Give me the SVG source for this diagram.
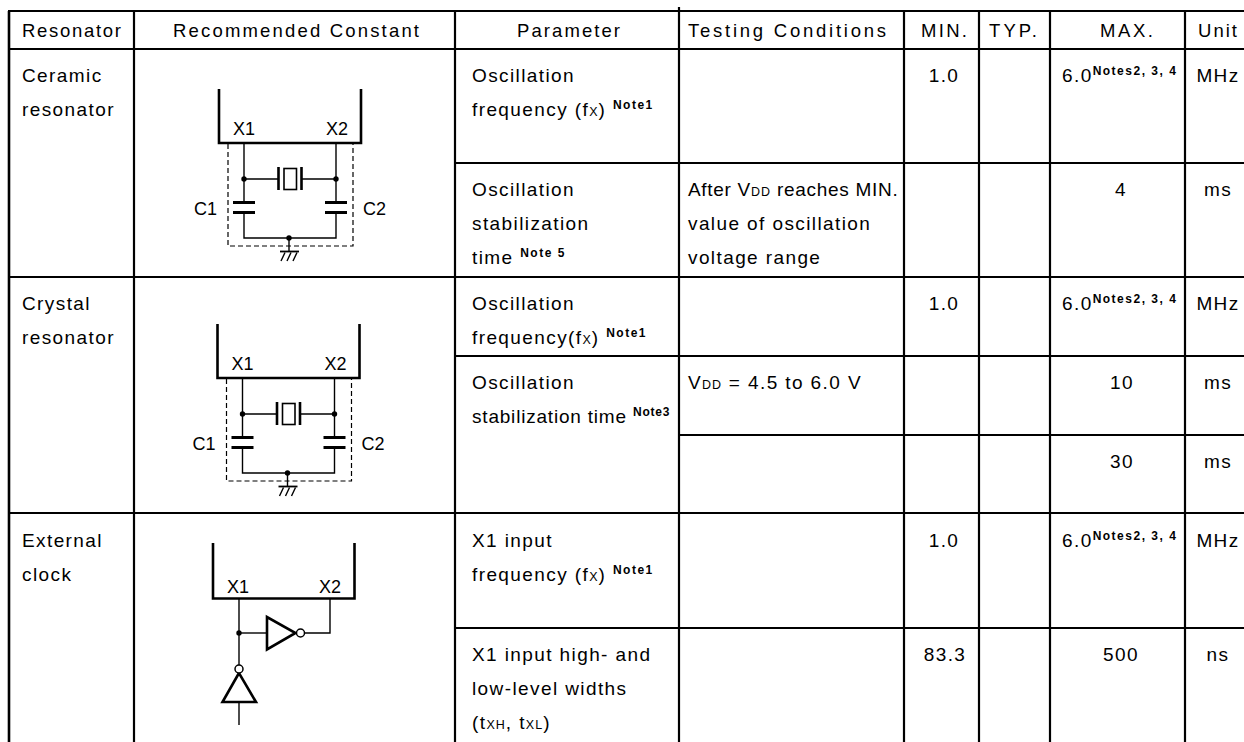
<svg xmlns="http://www.w3.org/2000/svg" width="1244" height="742" viewBox="0 0 1244 742">
<style>
text{font-family:"Liberation Sans",Arial,Helvetica,sans-serif;font-size:19px;fill:#000}
.t{letter-spacing:1.4px}
.h{letter-spacing:0;font-size:18.5px}
.c{text-anchor:middle;letter-spacing:1.4px}
.sup{font-weight:bold;font-size:12px;letter-spacing:1.5px}
.sub{font-size:12.5px;letter-spacing:1px}
.lbl{letter-spacing:0;font-size:18px}
.grid line{stroke:#000;stroke-width:2.2}
.w{stroke:#000;stroke-width:1.4;fill:none}
.bold{stroke:#000;stroke-width:2.6;fill:none}
.plate{stroke:#000;stroke-width:3;fill:none}
.dash{stroke:#000;stroke-width:1.2;fill:none;stroke-dasharray:5 3}
.dot{fill:#000}
.bub{fill:#fff;stroke:#000;stroke-width:1.5}
</style>
<rect width="1244" height="742" fill="#fff"/>

<g id="table-grid" class="grid">
  <line x1="9" y1="11" x2="9" y2="742" style="stroke-width:2.6"/>
  <line x1="134" y1="11" x2="134" y2="742"/>
  <line x1="455" y1="11" x2="455" y2="742"/>
  <line x1="679" y1="7" x2="679" y2="742"/>
  <line x1="904" y1="11" x2="904" y2="742"/>
  <line x1="979" y1="11" x2="979" y2="742"/>
  <line x1="1050" y1="11" x2="1050" y2="742"/>
  <line x1="1185" y1="11" x2="1185" y2="742"/>
  <line x1="8" y1="11" x2="1244" y2="11"/>
  <line x1="8" y1="49" x2="1244" y2="49"/>
  <line x1="455" y1="163" x2="1244" y2="163"/>
  <line x1="8" y1="277" x2="1244" y2="277"/>
  <line x1="455" y1="356" x2="1244" y2="356"/>
  <line x1="679" y1="435" x2="1244" y2="435"/>
  <line x1="8" y1="513" x2="1244" y2="513"/>
  <line x1="455" y1="628" x2="1244" y2="628"/>
</g>

<g id="header">
  <text class="h" x="22" y="37" textLength="99" lengthAdjust="spacing">Resonator</text>
  <text class="h" x="173" y="37" textLength="246" lengthAdjust="spacing">Recommended Constant</text>
  <text class="h" x="517" y="37" textLength="103" lengthAdjust="spacing">Parameter</text>
  <text class="h" x="688" y="37" textLength="198" lengthAdjust="spacing">Testing Conditions</text>
  <text class="h" x="921" y="37" textLength="46" lengthAdjust="spacing">MIN.</text>
  <text class="h" x="989" y="37" textLength="48" lengthAdjust="spacing">TYP.</text>
  <text class="h" x="1100" y="37" textLength="53" lengthAdjust="spacing">MAX.</text>
  <text class="h" x="1198" y="37" textLength="39" lengthAdjust="spacing">Unit</text>
</g>

<g id="row-ceramic">
  <text class="t" x="22" y="82">Ceramic</text>
  <text class="t" x="22" y="116">resonator</text>
  <text class="t" x="472" y="82">Oscillation</text>
  <text class="t" x="472" y="116">frequency (f<tspan class="sub">X</tspan>) <tspan class="sup" dy="-7">Note1</tspan></text>
  <text class="c" x="944" y="82">1.0</text>
  <text class="t" x="1062" y="82">6.0<tspan class="sup" dy="-7">Notes2, 3, 4</tspan></text>
  <text class="c" x="1218" y="82">MHz</text>
  <text class="t" x="472" y="196">Oscillation</text>
  <text class="t" x="472" y="230">stabilization</text>
  <text class="t" x="472" y="264">time <tspan class="sup" dy="-7">Note 5</tspan></text>
  <text x="688" y="196" style="letter-spacing:0.7px">After V<tspan class="sub">DD</tspan> reaches MIN.</text>
  <text class="t" x="688" y="230">value of oscillation</text>
  <text class="t" x="688" y="264">voltage range</text>
  <text class="c" x="1121" y="196">4</text>
  <text class="c" x="1218" y="196">ms</text>
</g>

<g id="row-crystal">
  <text class="t" x="22" y="310">Crystal</text>
  <text class="t" x="22" y="344">resonator</text>
  <text class="t" x="472" y="310">Oscillation</text>
  <text class="t" x="472" y="344">frequency(f<tspan class="sub">X</tspan>) <tspan class="sup" dy="-7">Note1</tspan></text>
  <text class="c" x="944" y="310">1.0</text>
  <text class="t" x="1062" y="310">6.0<tspan class="sup" dy="-7">Notes2, 3, 4</tspan></text>
  <text class="c" x="1218" y="310">MHz</text>
  <text class="t" x="472" y="389">Oscillation</text>
  <text x="472" y="423" style="letter-spacing:0.8px">stabilization time <tspan class="sup" dy="-7" style="letter-spacing:0.8px">Note3</tspan></text>
  <text class="t" x="688" y="389">V<tspan class="sub">DD</tspan> = 4.5 to 6.0 V</text>
  <text class="c" x="1122" y="389">10</text>
  <text class="c" x="1218" y="389">ms</text>
  <text class="c" x="1122" y="468">30</text>
  <text class="c" x="1218" y="468">ms</text>
</g>

<g id="row-external">
  <text class="t" x="22" y="547">External</text>
  <text class="t" x="22" y="581">clock</text>
  <text class="t" x="472" y="547">X1 input</text>
  <text class="t" x="472" y="581">frequency (f<tspan class="sub">X</tspan>) <tspan class="sup" dy="-7">Note1</tspan></text>
  <text class="c" x="944" y="547">1.0</text>
  <text class="t" x="1062" y="547">6.0<tspan class="sup" dy="-7">Notes2, 3, 4</tspan></text>
  <text class="c" x="1218" y="547">MHz</text>
  <text class="t" x="472" y="661">X1 input high- and</text>
  <text class="t" x="472" y="695">low-level widths</text>
  <text class="t" x="472" y="729">(t<tspan class="sub">XH</tspan>, t<tspan class="sub">XL</tspan>)</text>
  <text class="c" x="945" y="661">83.3</text>
  <text class="c" x="1121" y="661">500</text>
  <text class="c" x="1218" y="661">ns</text>
</g>

<g id="circuit-ceramic">
  <path class="bold" d="M219,89 V143 H361 V89"/>
  <text class="lbl" x="233" y="135">X1</text>
  <text class="lbl" x="326" y="135">X2</text>
  <text class="lbl" x="194" y="215">C1</text>
  <text class="lbl" x="363" y="215">C2</text>
  <g id="conn-ceramic">
    <path class="w" d="M244,143 V202.5 M244,212.5 V238 H336 V212.5 M336,202.5 V143"/>
    <path class="w" d="M244,179 H278.5 M301.5,179 H336"/>
    <path class="w" d="M289,238 V251"/>
  </g>
  <path class="bold" d="M278.5,167 V190 M301.5,167 V190"/>
  <rect x="284" y="168.5" width="12.5" height="21" class="w" style="stroke-width:1.6"/>
  <path class="plate" d="M233,202.5 H255 M233,212.5 H255 M325,202.5 H347 M325,212.5 H347"/>
  <circle class="dot" cx="244" cy="179" r="2.7"/>
  <circle class="dot" cx="336" cy="179" r="2.7"/>
  <circle class="dot" cx="289" cy="238" r="2.7"/>
  <path class="w" d="M280,251.5 H299" style="stroke-width:1.8"/>
  <path class="w" d="M285,252.5 L281,261 M291,252.5 L287,261 M297,252.5 L293,261"/>
  <path class="dash" d="M228,144 V246 H353 V144"/>
</g>

<g id="circuit-crystal" transform="translate(-1.5,235)">
  <path class="bold" d="M219,89 V143 H361 V89"/>
  <text class="lbl" x="233" y="135">X1</text>
  <text class="lbl" x="326" y="135">X2</text>
  <text class="lbl" x="194" y="215">C1</text>
  <text class="lbl" x="363" y="215">C2</text>
  <g id="conn-crystal">
    <path class="w" d="M244,143 V202.5 M244,212.5 V238 H336 V212.5 M336,202.5 V143"/>
    <path class="w" d="M244,179 H278.5 M301.5,179 H336"/>
    <path class="w" d="M289,238 V251"/>
  </g>
  <path class="bold" d="M278.5,167 V190 M301.5,167 V190"/>
  <rect x="284" y="168.5" width="12.5" height="21" class="w" style="stroke-width:1.6"/>
  <path class="plate" d="M233,202.5 H255 M233,212.5 H255 M325,202.5 H347 M325,212.5 H347"/>
  <circle class="dot" cx="244" cy="179" r="2.7"/>
  <circle class="dot" cx="336" cy="179" r="2.7"/>
  <circle class="dot" cx="289" cy="238" r="2.7"/>
  <path class="w" d="M280,251.5 H299" style="stroke-width:1.8"/>
  <path class="w" d="M285,252.5 L281,261 M291,252.5 L287,261 M297,252.5 L293,261"/>
  <path class="dash" d="M228,144 V246 H353 V144"/>
</g>

<g id="circuit-external">
  <path class="bold" d="M213,543 V598.5 H354.5 V543"/>
  <text class="lbl" x="227" y="593">X1</text>
  <text class="lbl" x="319" y="593">X2</text>
  <g id="conn-external">
    <path class="w" d="M239,598 V665"/>
    <path class="w" d="M239,633 H267"/>
    <path class="w" d="M304.5,633 H330 V598"/>
    <path class="w" d="M239,702 V725"/>
  </g>
  <circle class="dot" cx="239" cy="633" r="2.7"/>
  <path class="bold" d="M267,617 L267,649.5 L295.5,633 Z" style="stroke-linejoin:miter"/>
  <circle class="bub" cx="300.5" cy="633" r="4"/>
  <path class="bold" d="M239,673 L222.5,702 L256,702 Z" style="stroke-linejoin:miter"/>
  <circle class="bub" cx="239" cy="669" r="4"/>
</g>
</svg>
